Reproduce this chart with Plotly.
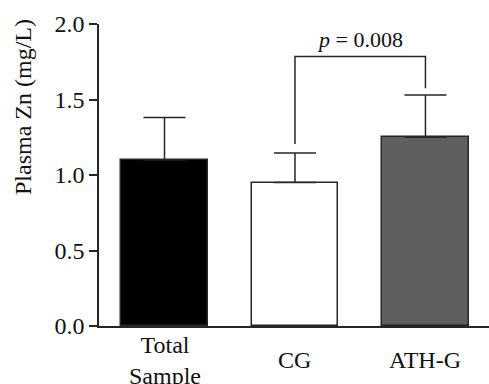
import plotly.graph_objects as go

categories = ["Total<br>Sample", "CG", "ATH-G"]
means = [1.10, 0.95, 1.25]
sd_upper = [0.28, 0.195, 0.28]
bar_colors = ["#000000", "#ffffff", "#5f5f5f"]
y_ticks = [0.0, 0.5, 1.0, 1.5, 2.0]
y_tick_labels = ["0.0", "0.5", "1.0", "1.5", "2.0"]
p_label = "<i>p</i> = 0.008"
bracket_pair = [1, 2]
bracket_top = 1.785
bracket_leg_bottoms = [1.205, 1.574]

FONT = "Liberation Serif"
LINE = "#262626"
xpos = list(range(len(categories)))

fig = go.Figure()
fig.add_trace(go.Bar(
    x=xpos, y=means, width=0.665,
    marker=dict(color=bar_colors, line=dict(color=LINE, width=1.5)),
    error_y=dict(type="data", symmetric=False, array=sd_upper,
                 arrayminus=[0] * len(means), color=LINE,
                 thickness=1.5, width=21),
    showlegend=False, hoverinfo="skip",
))

# significance bracket
x1, x2 = bracket_pair
fig.add_trace(go.Scatter(
    x=[x1, x1, x2, x2],
    y=[bracket_leg_bottoms[0], bracket_top, bracket_top, bracket_leg_bottoms[1]],
    mode="lines", line=dict(color=LINE, width=1.5),
    showlegend=False, hoverinfo="skip",
))
fig.add_annotation(x=(x1 + x2) / 2, y=bracket_top, yshift=2, text=p_label,
                   showarrow=False, yanchor="bottom", xanchor="center",
                   font=dict(family=FONT, size=22, color="#111"))

# category labels
for xi, lab in zip(xpos, categories):
    fig.add_annotation(x=xi, y=-0.1126, xref="x", yref="paper", text=lab,
                       showarrow=False, yanchor="middle", xanchor="center",
                       font=dict(family=FONT, size=24, color="#111"))

# y axis title
fig.add_annotation(x=-0.195, y=0.725, xref="paper", yref="paper",
                   text="Plasma Zn (mg/L)", textangle=-90, showarrow=False,
                   xanchor="center", yanchor="middle",
                   font=dict(family=FONT, size=24, color="#111"))

fig.update_layout(
    width=489, height=384,
    margin=dict(l=99, r=0, t=24, b=58),
    plot_bgcolor="white", paper_bgcolor="white",
    bargap=0,
    xaxis=dict(range=[-0.502, 2.487], showline=True, linecolor=LINE,
               linewidth=1.6, showticklabels=False, ticks="",
               showgrid=False, zeroline=False, fixedrange=True),
    yaxis=dict(range=[0, 2.0], tickvals=y_ticks, ticktext=y_tick_labels,
               showline=True, linecolor=LINE, linewidth=1.6,
               ticks="outside", ticklen=8, tickwidth=1.6, tickcolor=LINE,
               tickfont=dict(family=FONT, size=24, color="#111"),
               showgrid=False, zeroline=False),
)

fig.write_html("out.html")
